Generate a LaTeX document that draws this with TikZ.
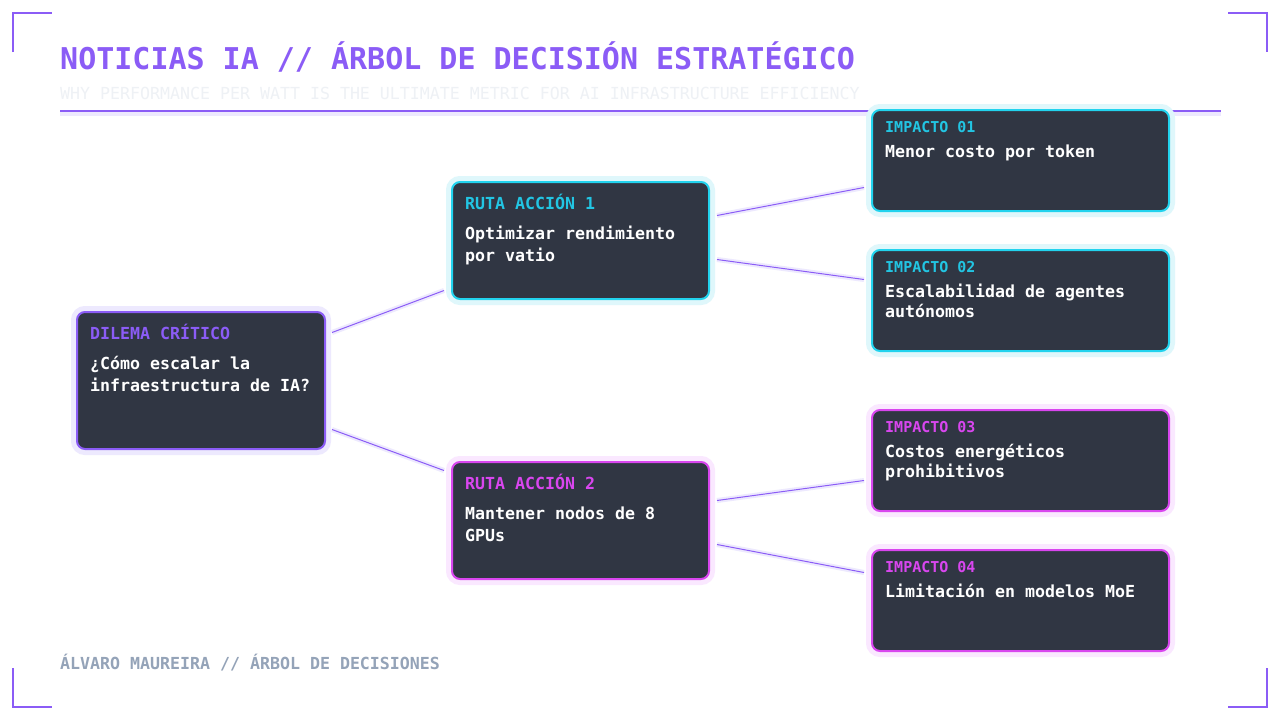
\documentclass[tikz,border=0pt]{standalone}
\usepackage{fontspec}
\setmonofont{DejaVu Sans Mono}
\usetikzlibrary{positioning}
\definecolor{violetA}{HTML}{8B5CF6}
\definecolor{violetglow}{HTML}{EDE9FE}
\definecolor{cyanA}{HTML}{22D3EE}
\definecolor{cyanlbl}{HTML}{22C5E3}
\definecolor{cyanglow}{HTML}{DFF7FB}
\definecolor{pinkA}{HTML}{D946EF}
\definecolor{pinkglow}{HTML}{FAE8FF}
\definecolor{boxfill}{HTML}{303643}
\definecolor{subgray}{HTML}{EEF1F5}
\definecolor{footgray}{HTML}{94A3B8}
\tikzset{
  box/.style={rectangle, rounded corners=8pt, fill=boxfill, line width=2pt,
    inner sep=0pt, outer sep=0pt, anchor=north west},
  rootbox/.style={box, draw=violetA, preaction={draw=violetglow, line width=12pt},
    minimum width=248pt, minimum height=137pt},
  actbox/.style={box, draw=#1A, preaction={draw=#1glow, line width=12pt},
    minimum width=257pt, minimum height=117pt},
  impbox/.style={box, draw=#1A, preaction={draw=#1glow, line width=12pt},
    minimum width=297pt, minimum height=101pt},
  lbl/.style={anchor=base west, inner sep=0pt, text=#1,
    font=\ttfamily\bfseries\fontsize{16.6}{22}\selectfont},
  implbl/.style={lbl=#1, font=\ttfamily\bfseries\fontsize{15}{20}\selectfont},
  txt/.style={anchor=base west, inner sep=0pt, align=left, text=white,
    font=\ttfamily\bfseries\fontsize{16.6}{22}\selectfont},
  imptxt/.style={txt, font=\ttfamily\bfseries\fontsize{16.6}{20}\selectfont},
  link/.style={draw=violetA, line width=1pt,
    preaction={draw=violetglow, line width=5pt}},
  bracket/.style={draw=violetA, line width=2.5pt}}

\begin{document}
\begin{tikzpicture}[x=1pt, y=-1pt]
  \useasboundingbox[fill=white] (0,0) rectangle (1280,720);
  % corner brackets
  \draw[bracket] (13,52) -- (13,13) -- (52,13);
  \draw[bracket] (1228,13) -- (1267,13) -- (1267,52);
  \draw[bracket] (13,668) -- (13,707) -- (52,707);
  \draw[bracket] (1228,707) -- (1267,707) -- (1267,668);
  % header
  \node[anchor=base west, inner sep=0pt, text=violetA,
    font=\ttfamily\bfseries\fontsize{30}{36}\selectfont] (title) at (60,69)
    {NOTICIAS IA // ÁRBOL DE DECISIÓN ESTRATÉGICO};
  \node[anchor=base west, inner sep=0pt, text=subgray,
    font=\ttfamily\fontsize{16.6}{20}\selectfont] (subtitle) at (60,99)
    {WHY PERFORMANCE PER WATT IS THE ULTIMATE METRIC FOR AI INFRASTRUCTURE EFFICIENCY};
  \coordinate (ruleL) at (60,111);
  \coordinate (ruleR) at (1221,111);
  \draw[violetglow, line width=6pt] ([yshift=-2pt]ruleL) -- ([yshift=-2pt]ruleR);
  \draw[violetA, line width=2.5pt] (ruleL) -- (ruleR);
  % boxes
  \node[rootbox] (root) at (77,312) {};
  \node[actbox=cyan] (act1) at (452,182) {};
  \node[actbox=pink] (act2) at (452,462) {};
  \node[impbox=cyan] (imp1) at (872,110) {};
  \node[impbox=cyan] (imp2) at (872,250) {};
  \node[impbox=pink] (imp3) at (872,410) {};
  \node[impbox=pink] (imp4) at (872,550) {};
  % texts (base anchor of a two-line node sits on its last line)
  \node[lbl=violetA] (rootL) at ([xshift=13pt,yshift=-27pt]root.north west) {DILEMA CRÍTICO};
  \node[txt] (rootT) at ([xshift=13pt,yshift=-79pt]root.north west) {¿Cómo escalar la\\infraestructura de IA?};
  \node[lbl=cyanlbl] (act1L) at ([xshift=13pt,yshift=-27pt]act1.north west) {RUTA ACCIÓN 1};
  \node[txt] (act1T) at ([xshift=13pt,yshift=-79pt]act1.north west) {Optimizar rendimiento\\por vatio};
  \node[lbl=pinkA] (act2L) at ([xshift=13pt,yshift=-27pt]act2.north west) {RUTA ACCIÓN 2};
  \node[txt] (act2T) at ([xshift=13pt,yshift=-79pt]act2.north west) {Mantener nodos de 8\\GPUs};
  \node[implbl=cyanlbl] (imp1L) at ([xshift=13pt,yshift=-22.5pt]imp1.north west) {IMPACTO 01};
  \node[imptxt] (imp1T) at ([xshift=13pt,yshift=-47pt]imp1.north west) {Menor costo por token};
  \node[implbl=cyanlbl] (imp2L) at ([xshift=13pt,yshift=-22.5pt]imp2.north west) {IMPACTO 02};
  \node[imptxt] (imp2T) at ([xshift=13pt,yshift=-67pt]imp2.north west) {Escalabilidad de agentes\\autónomos};
  \node[implbl=pinkA] (imp3L) at ([xshift=13pt,yshift=-22.5pt]imp3.north west) {IMPACTO 03};
  \node[imptxt] (imp3T) at ([xshift=13pt,yshift=-67pt]imp3.north west) {Costos energéticos\\prohibitivos};
  \node[implbl=pinkA] (imp4L) at ([xshift=13pt,yshift=-22.5pt]imp4.north west) {IMPACTO 04};
  \node[imptxt] (imp4T) at ([xshift=13pt,yshift=-47pt]imp4.north west) {Limitación en modelos MoE};
  % links
  \draw[link] ([xshift=7pt,yshift=48pt]root.east) -- ([xshift=-8pt,yshift=-50pt]act1.west);
  \draw[link] ([xshift=7pt,yshift=-49pt]root.east) -- ([xshift=-8pt,yshift=50pt]act2.west);
  \draw[link] ([xshift=8pt,yshift=25pt]act1.east) -- ([xshift=-8pt,yshift=-27pt]imp1.west);
  \draw[link] ([xshift=8pt,yshift=-19pt]act1.east) -- ([xshift=-8pt,yshift=21pt]imp2.west);
  \draw[link] ([xshift=8pt,yshift=20pt]act2.east) -- ([xshift=-8pt,yshift=-20pt]imp3.west);
  \draw[link] ([xshift=8pt,yshift=-24pt]act2.east) -- ([xshift=-8pt,yshift=28pt]imp4.west);
  % footer
  \node[anchor=base west, inner sep=0pt, text=footgray,
    font=\ttfamily\bfseries\fontsize{16.6}{20}\selectfont] (footer) at (60,669)
    {ÁLVARO MAUREIRA // ÁRBOL DE DECISIONES};
\end{tikzpicture}
\end{document}
